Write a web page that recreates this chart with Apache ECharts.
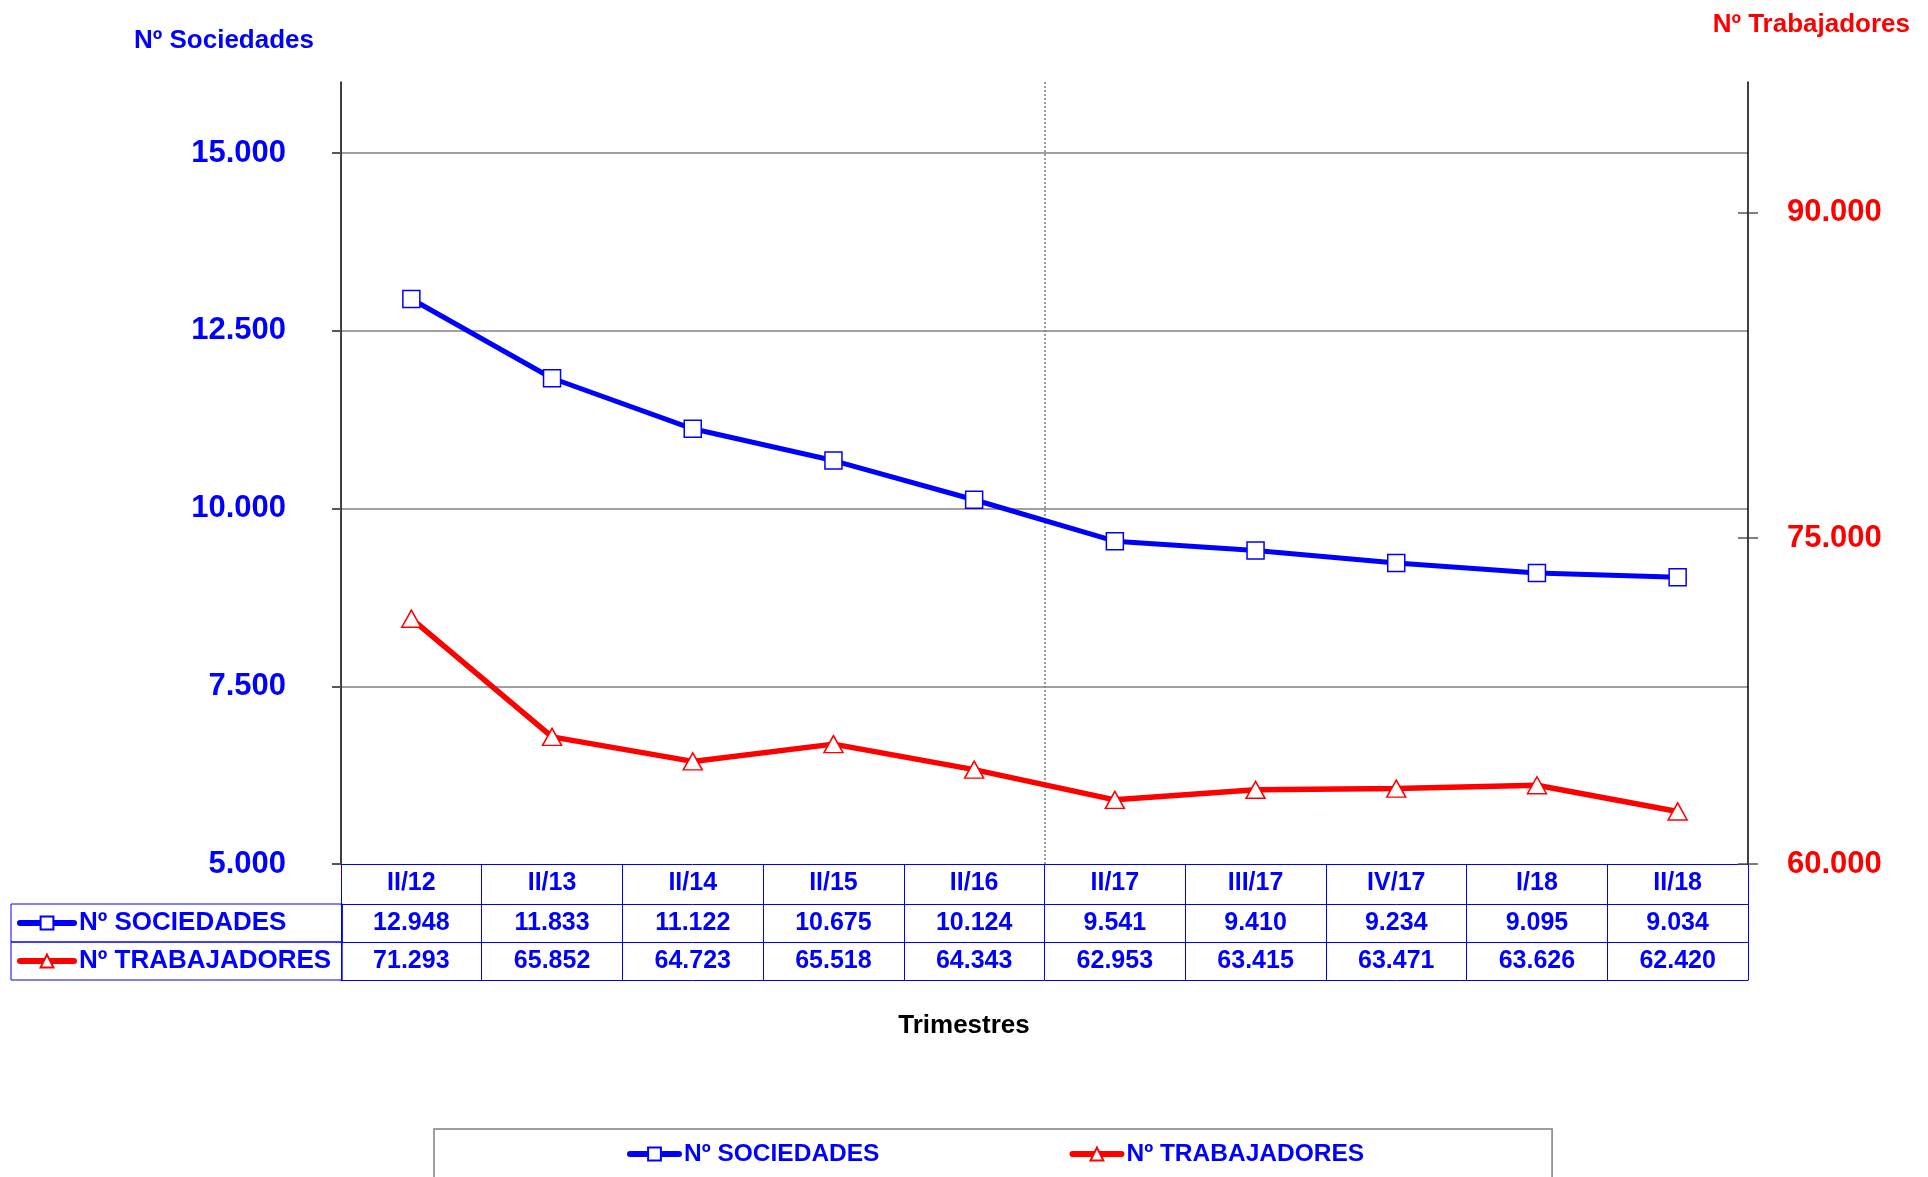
<!DOCTYPE html>
<html>
<head>
<meta charset="utf-8">
<script src="https://cdn.jsdelivr.net/npm/echarts@6/dist/echarts.min.js"></script>
<style>
  html, body { margin: 0; padding: 0; background: #fff; }
  #main { width: 1928px; height: 1177px; }
</style>
</head>
<body>
<div id="main"></div>
<script>
// datos por trimestre
const trimestres = ['II/12', 'II/13', 'II/14', 'II/15', 'II/16', 'II/17', 'III/17', 'IV/17', 'I/18', 'II/18']
const sociedades = [12948, 11833, 11122, 10675, 10124, 9541, 9410, 9234, 9095, 9034]
const trabajadores = [71293, 65852, 64723, 65518, 64343, 62953, 63415, 63471, 63626, 62420]

// marcas de los ejes
const ticksSociedades = [5000, 7500, 10000, 12500, 15000]
const ticksTrabajadores = [60000, 75000, 90000]

const FONT = "'Liberation Sans', Arial, sans-serif"
const BLUE = '#0000ff'
const RED = '#ff0000'

function fmt(v) {
  return String(v).replace(/\B(?=(\d{3})+(?!\d))/g, '.')
}

const chart = echarts.init(document.getElementById('main'))

const cellText = { color: BLUE, fontFamily: FONT, fontWeight: 'bold', fontSize: 25, lineHeight: 26 }
const legendText = { color: BLUE, fontFamily: FONT, fontWeight: 'bold', fontSize: 26, lineHeight: 26 }

/** fila de la tabla debajo del grafico */
function tableAxis(data, offset, tickLen) {
  return {
    type: 'category',
    position: 'bottom',
    offset: offset,
    data: data,
    axisLine: { show: true, lineStyle: { color: BLUE, width: 1 } },
    axisTick: { show: tickLen > 0, length: tickLen, lineStyle: { color: BLUE, width: 1 } },
    axisLabel: { show: data.length > 0, margin: 6, ...cellText },
    splitLine: { show: false }
  }
}

const option = {
  animation: false,
  backgroundColor: '#fff',
  title: [
    {
      text: 'Nº Sociedades', left: 134, top: 28, padding: 0,
      textStyle: { color: BLUE, fontFamily: FONT, fontWeight: 'bold', fontSize: 26, lineHeight: 26 }
    },
    {
      text: 'Nº Trabajadores', right: 18, top: 12, padding: 0,
      textStyle: { color: RED, fontFamily: FONT, fontWeight: 'bold', fontSize: 26, lineHeight: 26 }
    },
    {
      text: 'Trimestres', left: 'center', top: 1013, padding: 0,
      textStyle: { color: '#000', fontFamily: FONT, fontWeight: 'bold', fontSize: 26, lineHeight: 26 }
    }
  ],
  legend: [
    {
      data: ['Nº SOCIEDADES'],
      left: 11, top: 904, padding: [6, 56, 6, 6],
      itemWidth: 54, itemHeight: 16,
      borderColor: BLUE, borderWidth: 1,
      selectedMode: false,
      lineStyle: { width: 6, cap: 'round' },
      textStyle: legendText
    },
    {
      data: ['Nº TRABAJADORES'],
      left: 11, top: 942, padding: [6, 11, 6, 6],
      itemWidth: 54, itemHeight: 16,
      borderColor: BLUE, borderWidth: 1,
      selectedMode: false,
      lineStyle: { width: 6, cap: 'round' },
      textStyle: legendText
    },
    {
      data: ['Nº SOCIEDADES', 'Nº TRABAJADORES'],
      left: 434, top: 1129, padding: [12, 188, 40, 193],
      itemGap: 190, itemWidth: 49, itemHeight: 16,
      borderColor: '#7f7f7f', borderWidth: 1.5,
      selectedMode: false,
      lineStyle: { width: 6, cap: 'round' },
      textStyle: { ...legendText, fontSize: 24.5 }
    }
  ],
  grid: { left: 341, right: 180, top: 82, bottom: 313, containLabel: false },
  xAxis: [
    {
      ...tableAxis(trimestres, 0, 40),
      splitLine: {
        // linea punteada entre II/16 y II/17
        show: true,
        interval: (i) => i === 0 || i === 5,
        showMinLine: false,
        showMaxLine: false,
        lineStyle: { color: '#7a7a7a', type: [2, 2], width: 1.5 }
      }
    },
    tableAxis(sociedades.map(fmt), 40, 38),
    tableAxis(trabajadores.map(fmt), 78, 38),
    tableAxis([], 116, 0)
  ],
  yAxis: [
    {
      type: 'value',
      position: 'left',
      min: 5000, max: 16000, interval: 2500,
      z: 2,
      axisLine: { show: true, lineStyle: { color: '#000', width: 1.5 } },
      axisTick: { show: true, length: 9, customValues: ticksSociedades, lineStyle: { color: '#555', width: 2 } },
      axisLabel: {
        customValues: ticksSociedades,
        margin: 55, color: BLUE, fontFamily: FONT, fontWeight: 'bold', fontSize: 31,
        formatter: fmt
      },
      splitLine: { show: true, showMinLine: false, showMaxLine: true, lineStyle: { color: '#808080', width: 1.5 } }
    },
    {
      type: 'value',
      position: 'right',
      min: 60000, max: 96000, interval: 15000,
      z: 2,
      axisLine: { show: true, lineStyle: { color: '#000', width: 1.5 } },
      axisTick: { show: true, length: 10, customValues: ticksTrabajadores, lineStyle: { color: '#555', width: 1.5 } },
      axisLabel: {
        customValues: ticksTrabajadores,
        margin: 39, color: RED, fontFamily: FONT, fontWeight: 'bold', fontSize: 31,
        formatter: fmt
      },
      splitLine: { show: false }
    },
    {
      // marcas hacia dentro del eje derecho
      type: 'value',
      position: 'right',
      min: 60000, max: 96000, interval: 15000,
      axisLine: { show: false },
      axisTick: { show: true, inside: true, length: 10, customValues: ticksTrabajadores, lineStyle: { color: '#555', width: 1.5 } },
      axisLabel: { show: false },
      splitLine: { show: false }
    }
  ],
  series: [
    {
      name: 'Nº SOCIEDADES',
      type: 'line',
      yAxisIndex: 0,
      data: sociedades,
      symbol: 'rect',
      symbolSize: 17,
      lineStyle: { color: BLUE, width: 5 },
      itemStyle: { color: '#fff', borderColor: BLUE, borderWidth: 1.5 },
      z: 3
    },
    {
      name: 'Nº TRABAJADORES',
      type: 'line',
      yAxisIndex: 1,
      data: trabajadores,
      symbol: 'triangle',
      symbolSize: [19, 17],
      lineStyle: { color: RED, width: 5.5 },
      itemStyle: { color: '#fff', borderColor: RED, borderWidth: 1.5 },
      z: 3
    }
  ]
}

chart.setOption(option)
</script>
</body>
</html>
